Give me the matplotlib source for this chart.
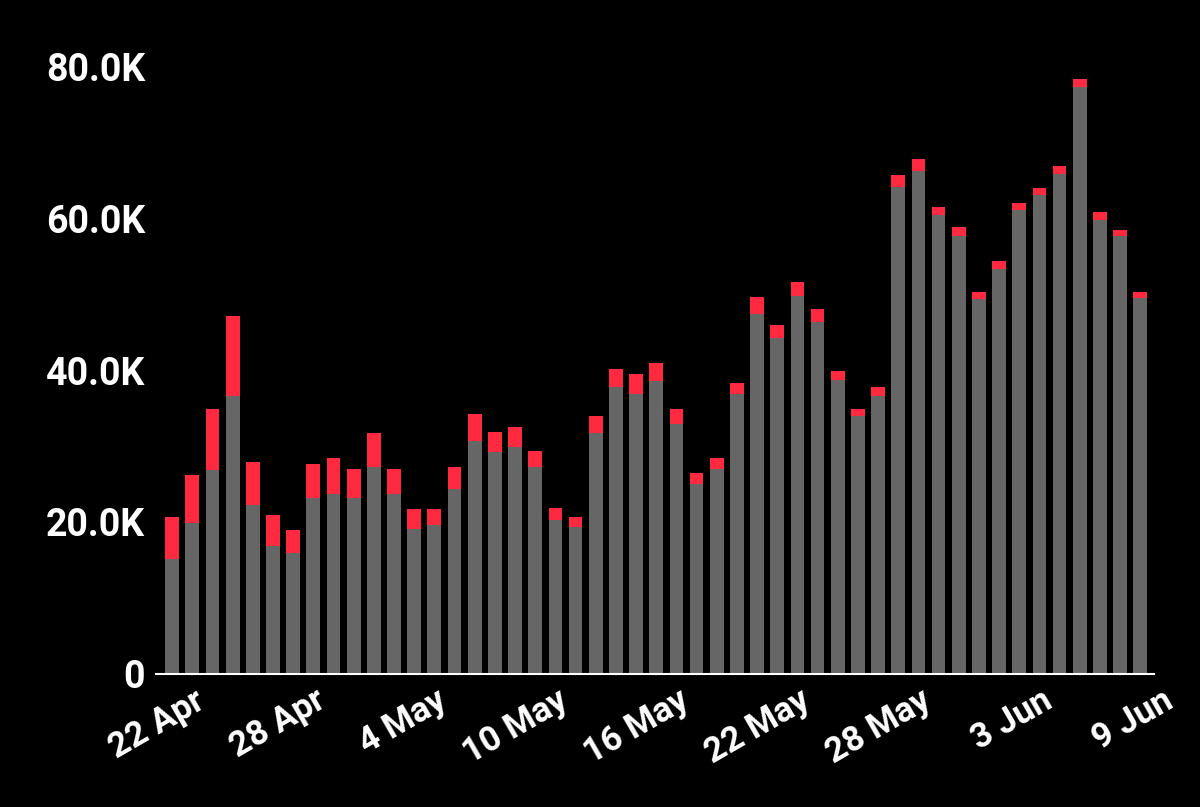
import matplotlib
matplotlib.use("Agg")
import matplotlib.pyplot as plt
import matplotlib.transforms as mtransforms
import numpy as np
import pandas as pd

dates = pd.date_range("2020-04-22", "2020-06-09")
total = [20.7,26.2,34.9,47.1,27.9,20.9,18.9,27.6,28.4,27.0,31.7,27.0,21.7,21.7,27.2,34.2,31.8,32.5,29.3,21.8,
         20.7,33.9,40.1,39.5,40.9,34.9,26.4,28.4,38.3,49.6,45.9,51.6,48.0,39.9,34.9,37.8,65.7,67.8,61.4,58.8,
         50.3,54.3,62.0,63.9,66.8,78.3,60.8,58.4,50.3]
gray = [15.1,19.9,26.8,36.6,22.2,16.8,15.9,23.2,23.7,23.2,27.2,23.7,19.1,19.6,24.3,30.7,29.2,29.9,27.2,20.3,
        19.3,31.7,37.8,36.8,38.6,32.9,25.0,27.0,36.8,47.4,44.2,49.7,46.3,38.7,33.9,36.6,64.1,66.2,60.4,57.6,
        49.3,53.3,61.1,63.0,65.8,77.2,59.7,57.6,49.5]
gray_v = np.array(gray) * 1000
red_v = (np.array(total) - np.array(gray)) * 1000

plt.rcParams['font.family'] = ['Roboto', 'DejaVu Sans']
fig = plt.figure(figsize=(12, 8.07), dpi=100, facecolor='black')
ax = fig.add_axes([0.13, 0.165, 0.832, 0.753], facecolor='black')
x = np.arange(len(dates))
ax.bar(x, gray_v, width=0.68, color='#666666')
ax.bar(x, red_v, bottom=gray_v, width=0.68, color='#ff2a40')
ax.set_xlim(-0.8, len(dates) - 0.3)
ax.set_ylim(0, 80000)
ax.set_yticks([0, 20000, 40000, 60000, 80000])
ax.set_yticklabels(['0', '20.0K', '40.0K', '60.0K', '80.0K'])
ticks = list(range(0, len(dates), 6))
ax.set_xticks(ticks)
ax.set_xticklabels([])
tr = ax.get_xaxis_transform() + mtransforms.ScaledTranslation(22/100, -10/100, fig.dpi_scale_trans)
for i in ticks:
    ax.text(i, 0, f"{dates[i].day} {dates[i].strftime('%b')}", transform=tr, rotation=30,
            ha='right', va='top', rotation_mode='anchor', color='white', fontsize=25, fontweight='bold')
for lab in ax.get_yticklabels():
    lab.set_color('white'); lab.set_fontsize(27); lab.set_fontweight('bold')
ax.tick_params(length=0, pad=8)
for s in ['top', 'right', 'left']:
    ax.spines[s].set_visible(False)
ax.spines['bottom'].set_color('white')
ax.spines['bottom'].set_linewidth(1.5)
fig.savefig('out.png', facecolor='black')
